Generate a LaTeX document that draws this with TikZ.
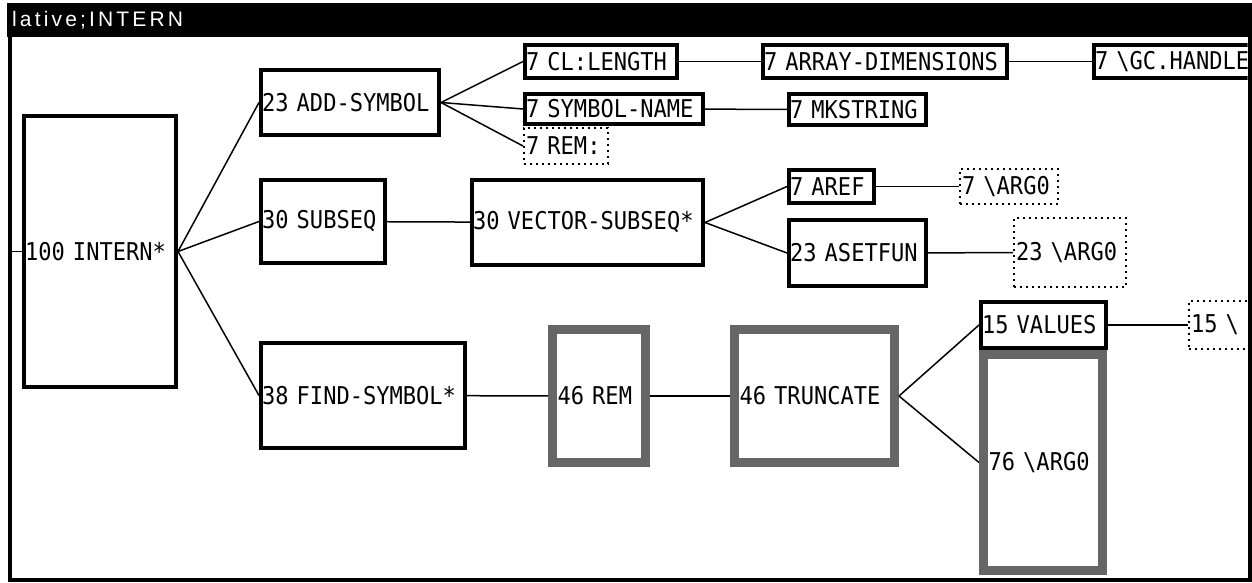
\documentclass[tikz,border=0pt]{standalone}
\usepackage{fontspec}
\usepackage{xcolor}
\usepackage{tikz}
\newfontfamily\mono[FakeStretch=0.9]{DejaVu Sans Mono}
\newfontfamily\ttl[LetterSpace=15]{Liberation Sans}

\begin{document}
\begin{tikzpicture}[
  x=1pt, y=-1pt,
  base/.style 2 args={text width=#1, minimum height=#2, inner ysep=0pt, align=left,
    font=\mono\fontsize{24.5}{26}\selectfont},
  box/.style 2 args={base={#1}{#2}, draw, line width=4pt, inner xsep=1pt},
  hot/.style 2 args={base={#1}{#2}, draw=black!60, line width=9pt, inner xsep=5pt},
  dim/.style 2 args={base={#1}{#2}, draw, line width=2pt, dash pattern=on 2pt off 4pt, inner xsep=2pt},
  wire/.style={line width=1.5pt}
]
\useasboundingbox (0,0) rectangle (1252,583);
\fill (7,3) rectangle (1252,37);
\node[anchor=west, text=white, inner sep=0pt, font=\ttl\fontsize{21}{21}\selectfont] (title) at (12,20) {lative;INTERN};

\begin{scope}
\clip (11.5,37) rectangle (1247.5,577.5);
\node[box={150pt}{271pt}] (intern) at (100,251.5) {100~INTERN*};
\node[box={176pt}{65pt}] (addsym) at (350,102.5) {23~ADD-SYMBOL};
\node[box={150pt}{33pt}] (cllen) at (601,61.5) {7~CL:LENGTH};
\node[box={242pt}{33pt}] (arrdim) at (885,61.5) {7~ARRAY-DIMENSIONS};
\node[box={182pt}{33pt}] (gchandle) at (1186,61.5) {7~\textbackslash GC.HANDLE};
\node[box={176pt}{30pt}] (symname) at (614,109) {7~SYMBOL-NAME};
\node[box={135pt}{31pt}] (mkstr) at (857.5,109.5) {7~MKSTRING};
\node[dim={80pt}{36pt}] (rem7) at (566,146) {7~REM:};
\node[box={122pt}{83pt}] (subseq) at (323,221.5) {30~SUBSEQ};
\node[box={229pt}{85pt}] (vecsub) at (587.5,222.5) {30~VECTOR-SUBSEQ*};
\node[box={83pt}{33pt}] (aref) at (831.5,186.5) {7~AREF};
\node[dim={94pt}{35pt}] (arg7) at (1009,186.5) {7~\textbackslash ARG0};
\node[box={135pt}{66pt}] (asetfun) at (857.5,253) {23~ASETFUN};
\node[dim={108pt}{69pt}] (arg23) at (1070,252.5) {23~\textbackslash ARG0};
\node[box={202pt}{105pt}] (findsym) at (363,395.5) {38~FIND-SYMBOL*};
\node[hot={83pt}{133pt}] (rem46) at (599,396) {46~REM};
\node[hot={150pt}{133pt}] (trunc) at (814.5,396) {46~TRUNCATE};
\node[box={123pt}{46pt}] (values) at (1043.5,325) {15~VALUES};
\node[hot={109pt}{216pt}] (arg76) at (1043,462.5) {76~\textbackslash ARG0};
\node[dim={106pt}{48pt}] (arg15) at (1244,325) {15~\textbackslash};
\coordinate (lft) at (9.5,251.5);

\draw[wire] (lft) -- (intern);
\draw[wire] (intern.east) -- (addsym.west);
\draw[wire] (intern.east) -- (subseq.west);
\draw[wire] (intern.east) -- (findsym.west);
\draw[wire] (addsym.east) -- (cllen.west);
\draw[wire] (addsym.east) -- (symname.west);
\draw[wire] (addsym.east) -- (rem7.west);
\draw[wire] (cllen) -- (arrdim);
\draw[wire] (arrdim) -- (gchandle);
\draw[wire] (symname) -- (mkstr);
\draw[wire] (subseq) -- (vecsub);
\draw[wire] (vecsub.east) -- (aref.west);
\draw[wire] (vecsub.east) -- (asetfun.west);
\draw[wire] (aref) -- (arg7);
\draw[wire] (asetfun) -- (arg23);
\draw[wire] (findsym) -- (rem46);
\draw[wire] (rem46) -- (trunc);
\draw[wire] (trunc.east) -- (values.west);
\draw[wire] (trunc.east) -- (arg76.west);
\draw[wire] (values) -- (arg15);
\end{scope}

\draw[line width=4pt] (9.5,37) -- (9.5,579.5) -- (1249.5,579.5) -- (1249.5,37);
\end{tikzpicture}
\end{document}
